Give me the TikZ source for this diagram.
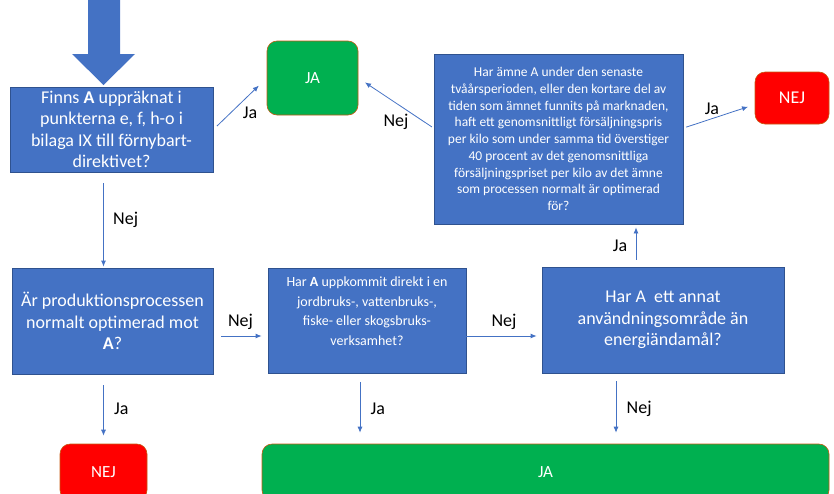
\documentclass[tikz,border=0pt]{standalone}
\usepackage{fontspec}
\setmainfont{Carlito}
\usetikzlibrary{arrows.meta}
\definecolor{boxblue}{HTML}{4472C4}
\definecolor{edgeblue}{HTML}{2F528F}
\definecolor{okgreen}{HTML}{00B050}
\definecolor{nored}{HTML}{FF0000}
\definecolor{rimbrown}{HTML}{C55A11}

\begin{document}
\begin{tikzpicture}[x=1pt,y=-1pt,
    qbox/.style={draw=edgeblue,line width=0.8pt,fill=boxblue,text=white,align=center,inner sep=2pt},
    endbox/.style={draw=rimbrown,line width=0.6pt,rounded corners=10pt,text=white,font=\fontsize{17}{20}\selectfont},
    flow/.style={draw=boxblue,line width=0.8pt,-{Latex[length=6pt,width=5pt]}},
    lbl/.style={font=\fontsize{18}{21}\selectfont,text=black}]
  \path[use as bounding box,clip] (0,0) rectangle (834,493);
  \fill[boxblue] (88,-2) -- (120,-2) -- (120,54) -- (135,54) -- (103.5,85) -- (72,54) -- (88,54) -- cycle;

  \node[qbox,minimum width=203pt,minimum height=85pt,font=\fontsize{18}{21.5}\selectfont] (q1) at (111.5,129.5)
    {Finns \textbf{A} uppräknat i\\punkterna e, f, h-o i\\bilaga IX till förnybart-\\direktivet?};
  \node[endbox,fill=okgreen,minimum width=91pt,minimum height=74pt] (ja1) at (312.5,78) {JA};
  \node[qbox,minimum width=249pt,minimum height=170pt,font=\fontsize{13.5}{16.7}\selectfont] (q5) at (558.5,139)
    {Har ämne A under den senaste\\tvåårsperioden, eller den kortare del av\\tiden som ämnet funnits på marknaden,\\haft ett genomsnittligt försäljningspris\\per kilo som under samma tid överstiger\\40 procent av det genomsnittliga\\försäljningspriset per kilo av det ämne\\som processen normalt är optimerad\\för?};
  \node[endbox,fill=nored,minimum width=74pt,minimum height=52pt,font=\fontsize{18}{21}\selectfont] (nej1) at (792,98) {NEJ};
  \node[qbox,minimum width=201pt,minimum height=106pt,font=\fontsize{18}{21.5}\selectfont] (q2) at (112.5,321)
    {Är produktionsprocessen\\normalt optimerad mot\\\textbf{A}?};
  \node[qbox,minimum width=198pt,minimum height=105pt,text depth=20pt,font=\fontsize{14}{19.5}\selectfont] (q3) at (367,321)
    {Har \textbf{A} uppkommit direkt i en\\jordbruks-, vattenbruks-,\\fiske- eller skogsbruks-\\verksamhet?};
  \node[qbox,minimum width=242pt,minimum height=106pt,font=\fontsize{18}{21.5}\selectfont] (q4) at (663,320)
    {Har A\ \ ett annat\\användningsområde än\\energiändamål?};
  \node[endbox,fill=nored,minimum width=87pt,minimum height=56pt] (nej2) at (103.5,472) {NEJ};
  \node[endbox,fill=okgreen,minimum width=567pt,minimum height=56pt] (ja2) at (545.5,472) {JA};

  \draw[flow,shorten <=5pt,shorten >=11pt] (q1.east) -- (ja1.west) node[lbl,midway,below right=-1pt] {Ja};
  \draw[flow,shorten <=11pt,shorten >=1pt] (q1.south -| nej2.north) -- (q2.north -| nej2.north) node[lbl,midway,right=6pt] {Nej};
  \draw[flow,shorten <=2pt,shorten >=8pt] (q5.175) -- (ja1.east) node[lbl,midway,below=7pt] {Nej};
  \draw[flow,shorten <=3pt,shorten >=7pt] (q5.5) -- (nej1.190) node[lbl,pos=0.4,above] {Ja};
  \draw[flow,shorten <=8pt,shorten >=6pt] ([yshift=-15pt]q2.east) -- ([yshift=-15pt]q2.east -| q3.west) node[lbl,midway,above=3pt] {Nej};
  \draw[flow,shorten >=5pt] ([yshift=-15pt]q3.east) -- ([yshift=-15pt]q3.east -| q4.west) node[lbl,midway,above=3pt] {Nej};
  \draw[flow,shorten <=7pt,shorten >=3pt] ([xshift=-27pt]q4.north) -- ([xshift=-27pt]q4.north |- q5.south) node[lbl,midway,left=5pt] {Ja};
  \draw[flow,shorten <=11pt,shorten >=8pt] (q2.south -| nej2.north) -- (nej2.north) node[lbl,midway,right=7pt] {Ja};
  \draw[flow,shorten <=8pt,shorten >=11pt] ([xshift=-7pt]q3.south) -- ([xshift=-7pt]q3.south |- ja2.north) node[lbl,midway,right=7pt] {Ja};
  \draw[flow,shorten <=8pt,shorten >=11pt] ([xshift=-47pt]q4.south) -- ([xshift=-47pt]q4.south |- ja2.north) node[lbl,midway,right=7pt] {Nej};
\end{tikzpicture}
\end{document}
